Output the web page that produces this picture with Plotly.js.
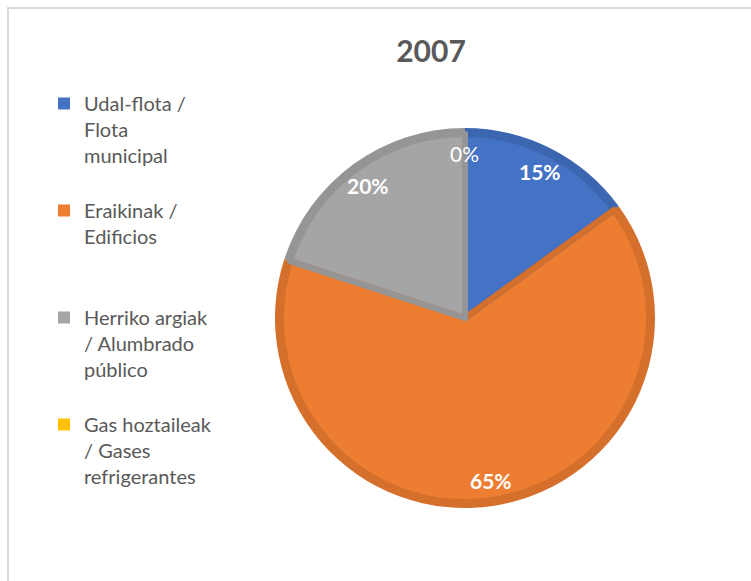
<!DOCTYPE html>
<html>
<head>
<meta charset="utf-8">
<script src="https://cdn.plot.ly/plotly-3.0.1.min.js"></script>
<style>
  html, body { margin: 0; padding: 0; background: #ffffff; }
  #chart { width: 751px; height: 581px; }
</style>
</head>
<body>
<div id="chart"></div>
<script>
// ---- data ----
const chartTitle = '2007';
const categoryLines = [
  ['Udal-flota /', 'Flota', 'municipal'],
  ['Eraikinak /', 'Edificios'],
  ['Herriko argiak', '/ Alumbrado', 'público'],
  ['Gas hoztaileak', '/ Gases', 'refrigerantes']
];
const values = [15, 65, 20, 0];
const fillColors = ['#4472C4', '#ED7D31', '#A5A5A5', '#FFC000'];
const edgeColors = ['#3D66B0', '#D5702C', '#959595', '#E5AD00'];

// ---- geometry ----
const W = 751, H = 581;
const cx = 465, cy = 318, R = 190, inset = 6;
const LINES_PER_ITEM = 4;

function domainFor(r) {
  return {
    x: [(cx - r) / W, (cx + r) / W],
    y: [1 - (cy + r) / H, 1 - (cy - r) / H]
  };
}

// legend labels padded to equal height like the original
const labels = categoryLines.map((lines, i) => {
  const pad = [];
  if (i < categoryLines.length - 1) {
    for (let k = lines.length; k < LINES_PER_ITEM; k++) pad.push('\u00a0');
  }
  return lines.concat(pad).join('<br>');
});

const total = values.reduce((a, b) => a + b, 0);

const common = {
  type: 'pie',
  values: values,
  labels: labels,
  sort: false,
  direction: 'clockwise',
  rotation: 0,
  textinfo: 'none',
  hoverinfo: 'skip'
};

// darker rim
const outer = Object.assign({}, common, {
  domain: domainFor(R),
  marker: { colors: edgeColors, line: { width: 0 } },
  showlegend: false
});

// slice fills (also the legend source)
const inner = Object.assign({}, common, {
  domain: domainFor(R - inset),
  marker: { colors: fillColors, line: { width: 0 } },
  showlegend: true
});

// darker radial edges
const edges = Object.assign({}, common, {
  domain: domainFor(R - inset),
  marker: {
    colors: values.map(() => 'rgba(0,0,0,0)'),
    line: { color: edgeColors, width: values.map(v => v > 0 ? 6 : 0) }
  },
  showlegend: false
});

// data labels along the slice mid-angle
const annotations = [];
let cum = 0;
values.forEach((v, i) => {
  const mid = (cum + v / 2) / total * 2 * Math.PI;
  cum += v;
  const r = 0.865 * R;
  const px = cx + r * Math.sin(mid);
  const py = cy - r * Math.cos(mid);
  const pct = Math.round(v / total * 100) + '%';
  annotations.push({
    xref: 'paper', yref: 'paper',
    x: px / W, y: 1 - py / H,
    xanchor: 'center', yanchor: 'middle',
    showarrow: false,
    text: v > 0 ? '<b>' + pct + '</b>' : pct,
    font: { family: 'Lato, sans-serif', size: 21, color: '#ffffff' }
  });
});

const layout = {
  width: W, height: H,
  margin: { l: 0, r: 0, t: 0, b: 0 },
  paper_bgcolor: '#ffffff',
  title: {
    text: '<b>' + chartTitle + '</b>',
    x: 431 / W, xanchor: 'center',
    y: 1 - 51 / H, yanchor: 'middle',
    font: { family: 'Lato, sans-serif', size: 30, color: '#595959' }
  },
  legend: {
    x: 44 / W, xanchor: 'left',
    y: 1 - 84 / H, yanchor: 'top',
    valign: 'top',
    traceorder: 'normal',
    bgcolor: 'rgba(0,0,0,0)',
    font: { family: 'Lato, sans-serif', size: 20, color: '#595959' }
  },
  annotations: annotations,
  shapes: [
    { type: 'line', xref: 'paper', yref: 'paper', x0: 8 / W, x1: 8 / W, y0: 0, y1: 1 - 7 / H,
      line: { color: '#D9D9D9', width: 2 } },
    { type: 'line', xref: 'paper', yref: 'paper', x0: 7 / W, x1: 1, y0: 1 - 8 / H, y1: 1 - 8 / H,
      line: { color: '#D9D9D9', width: 2 } }
  ]
};

Plotly.newPlot('chart', [outer, inner, edges], layout, { displayModeBar: false, staticPlot: true });
</script>
</body>
</html>
